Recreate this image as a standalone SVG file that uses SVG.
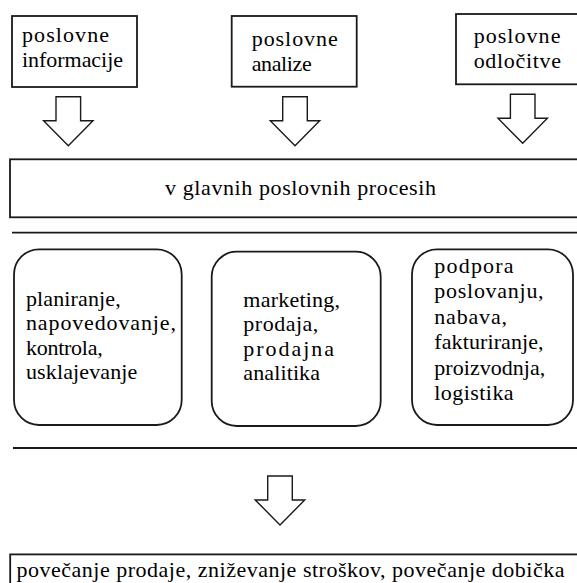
<svg xmlns="http://www.w3.org/2000/svg" xmlns:xlink="http://www.w3.org/1999/xlink" width="577" height="583" viewBox="0 0 577 583" font-family="Liberation Serif, Times New Roman, serif" font-size="22">
<style>
.box{fill:#fff;stroke:#1a1a1a;stroke-width:1.8}
.sep{stroke:#1a1a1a;stroke-width:1.8}
.arr{fill:#fff;stroke:#1a1a1a;stroke-width:1.4;stroke-linejoin:miter}
.t{fill:#000}
</style>
<defs>
<path id="blockArrow" d="M-12.3,0 H12.3 V24 H24.7 L0,49 L-24.7,24 H-12.3 Z"/>
</defs>
<rect width="577" height="583" fill="#fff"/>
<g id="n-informacije">
<rect class="box" x="12" y="16" width="125" height="71"/>
<text class="t" x="22" y="42" textLength="87" lengthAdjust="spacing">poslovne</text>
<text class="t" x="22" y="67" textLength="101" lengthAdjust="spacing">informacije</text>
</g>
<g id="n-analize">
<rect class="box" x="231.7" y="16" width="125" height="70.7"/>
<text class="t" x="251.7" y="45.5" textLength="86" lengthAdjust="spacing">poslovne</text>
<text class="t" x="251.7" y="70.5" textLength="60" lengthAdjust="spacing">analize</text>
</g>
<g id="n-odlocitve">
<rect class="box" x="456" y="14" width="130" height="70.3"/>
<text class="t" x="473.7" y="43" textLength="86.7" lengthAdjust="spacing">poslovne</text>
<text class="t" x="473.7" y="68" textLength="87.3" lengthAdjust="spacing">odločitve</text>
</g>
<g id="n-procesi">
<rect class="box" x="10" y="159.3" width="580" height="58"/>
<text class="t" x="165" y="195" textLength="271" lengthAdjust="spacing">v glavnih poslovnih procesih</text>
</g>
<g id="n-planiranje">
<rect class="box" x="14" y="249.3" width="167.7" height="175.7" rx="25" ry="25"/>
<text class="t" x="26" y="305.5" textLength="94.7" lengthAdjust="spacing">planiranje,</text>
<text class="t" x="26" y="330" textLength="150" lengthAdjust="spacing">napovedovanje,</text>
<text class="t" x="26" y="354.5" textLength="76.7" lengthAdjust="spacing">kontrola,</text>
<text class="t" x="26" y="379" textLength="111.3" lengthAdjust="spacing">usklajevanje</text>
</g>
<g id="n-marketing">
<rect class="box" x="211.7" y="251.7" width="169" height="174.3" rx="25" ry="25"/>
<text class="t" x="243.3" y="307" textLength="96.7" lengthAdjust="spacing">marketing,</text>
<text class="t" x="243.3" y="331" textLength="75" lengthAdjust="spacing">prodaja,</text>
<text class="t" x="243.3" y="355.5" textLength="90.7" lengthAdjust="spacing">prodajna</text>
<text class="t" x="243.3" y="380" textLength="76.7" lengthAdjust="spacing">analitika</text>
</g>
<g id="n-podpora">
<rect class="box" x="412" y="249.3" width="161" height="175.7" rx="25" ry="25"/>
<text class="t" x="434.3" y="273" textLength="79.3" lengthAdjust="spacing">podpora</text>
<text class="t" x="434.3" y="298" textLength="109.3" lengthAdjust="spacing">poslovanju,</text>
<text class="t" x="434.3" y="323.5" textLength="72.7" lengthAdjust="spacing">nabava,</text>
<text class="t" x="434.3" y="349" textLength="109.3" lengthAdjust="spacing">fakturiranje,</text>
<text class="t" x="434.3" y="374.5" textLength="111" lengthAdjust="spacing">proizvodnja,</text>
<text class="t" x="434.3" y="400" textLength="79.3" lengthAdjust="spacing">logistika</text>
</g>
<g id="n-rezultat">
<rect class="box" x="10.2" y="554.4" width="580" height="40"/>
<text class="t" x="16.5" y="577" textLength="548" lengthAdjust="spacing">povečanje prodaje, zniževanje stroškov, povečanje dobička</text>
</g>
<g id="connectors">
<use xlink:href="#blockArrow" class="arr" transform="translate(68.3,96.7)"/>
<use xlink:href="#blockArrow" class="arr" transform="translate(295,96.7)"/>
<use xlink:href="#blockArrow" class="arr" transform="translate(522.7,94.3)"/>
<use xlink:href="#blockArrow" class="arr" transform="translate(280,476)"/>
<line class="sep" x1="12" y1="232.7" x2="577" y2="232.7"/>
<line class="sep" x1="13" y1="448" x2="577" y2="448"/>
</g>
</svg>
